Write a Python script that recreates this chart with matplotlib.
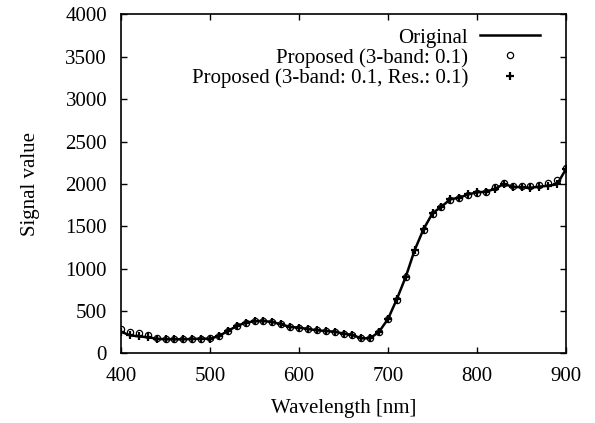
import matplotlib
matplotlib.use("Agg")
import matplotlib.pyplot as plt

plt.rcParams['font.family'] = ['Liberation Serif', 'DejaVu Serif']

# wavelength samples (nm)
wavelength = list(range(400, 901, 10))

# original spectrum
original = [255, 212, 200, 189, 173, 165, 165, 165, 169, 173,
            173, 204, 263, 322, 362, 378, 381, 370, 342, 311,
            303, 287, 272, 263, 255, 233, 216, 177, 177, 255,
            405, 641, 904, 1220, 1467, 1653, 1731, 1818, 1837, 1876,
            1900, 1908, 1940, 1999, 1967, 1960, 1955, 1967, 1979, 1995,
            2176]

# proposed, 3-band only
prop_3band = [283, 248, 236, 216, 185, 170, 167, 166, 170, 174,
              175, 205, 262, 320, 360, 377, 380, 369, 341, 310,
              302, 286, 271, 262, 254, 232, 215, 178, 178, 254,
              400, 625, 895, 1195, 1450, 1648, 1728, 1815, 1835, 1874,
              1898, 1910, 1965, 2005, 1975, 1980, 1980, 1990, 2010, 2050,
              2185]

# proposed, 3-band + residual
prop_res = [255, 212, 200, 189, 173, 165, 165, 165, 169, 173,
            173, 204, 263, 322, 362, 378, 381, 370, 342, 311,
            303, 287, 272, 263, 255, 233, 216, 177, 177, 255,
            405, 641, 904, 1220, 1467, 1653, 1731, 1818, 1837, 1876,
            1900, 1908, 1940, 1999, 1967, 1960, 1955, 1967, 1979, 1995,
            2176]

fs = 15

fig = plt.figure(figsize=(5.95, 4.23), dpi=100)
ax = fig.add_axes([121 / 595, 1 - 353.3 / 423, 445 / 595, 338.8 / 423])

ax.plot(wavelength, original, color='black', lw=1.8, label='Original')
ax.plot(wavelength, prop_3band, linestyle='none', marker='o', ms=4.5,
        mfc='none', mec='black', mew=0.9, label='Proposed (3-band: 0.1)')
ax.plot(wavelength, prop_res, linestyle='none', marker='+', ms=6,
        mec='black', mew=1.6, label='Proposed (3-band: 0.1, Res.: 0.1)')

ax.set_xlim(400, 900)
ax.set_ylim(0, 4000)
ax.set_xticks(range(400, 901, 100))
ax.set_yticks(range(0, 4001, 500))
ax.tick_params(direction='in', length=4.5, width=1, top=True, right=True,
               labelsize=fs, pad=10, colors='black')
for s in ax.spines.values():
    s.set_linewidth(1.2)

ax.set_xlabel('Wavelength [nm]', fontsize=fs, labelpad=9)
ax.set_ylabel('Signal value', fontsize=fs, labelpad=18)

ax.legend(loc='upper right', bbox_to_anchor=(0.9416, 0.96), frameon=False,
          markerfirst=False, fontsize=fs, handlelength=2.9, handletextpad=0.55,
          labelspacing=0.02, borderaxespad=0, borderpad=0)

fig.savefig('out.png', dpi=100)
